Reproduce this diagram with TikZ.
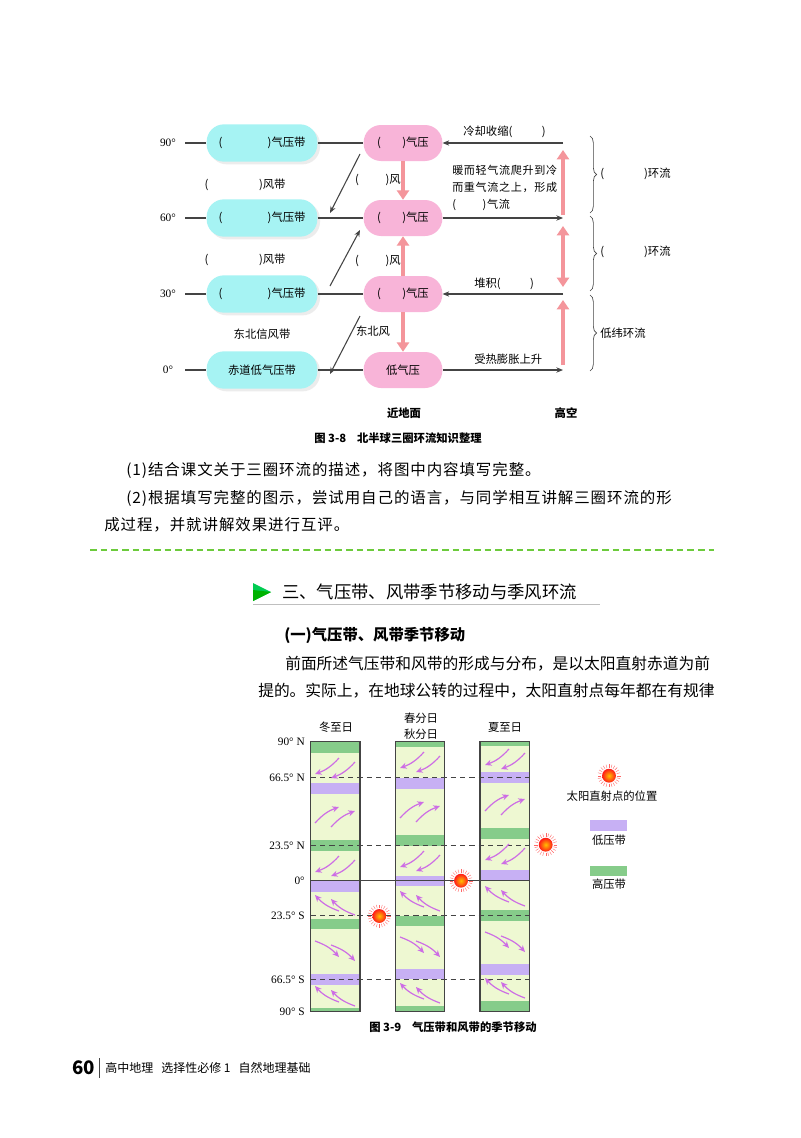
\documentclass[tikz,border=0pt]{standalone}
\usepackage{fontspec}
\setmainfont{Liberation Serif}
\newfontfamily\cjk{Noto Sans CJK SC}
\newfontfamily\cjksp[LetterSpace=6]{Noto Sans CJK SC}
\usetikzlibrary{shadows,decorations.pathreplacing,arrows.meta}
\definecolor{cyanp}{HTML}{A6F3F3}
\definecolor{pinkp}{HTML}{F8B4D8}
\definecolor{pinka}{HTML}{F4959B}
\definecolor{lgray}{HTML}{444444}
\definecolor{colbg}{HTML}{EEF8D2}
\definecolor{hiband}{HTML}{86CC8A}
\definecolor{loband}{HTML}{C7B0F4}
\definecolor{windc}{HTML}{C453E0}
\definecolor{dgreen}{HTML}{6CCB3C}
\tikzset{
 cpill/.style={fill=cyanp,rounded corners=13pt,minimum width=83pt,minimum height=28pt,inner sep=0pt,font=\cjk\fontsize{8.5}{9}\selectfont,drop shadow={opacity=0.15,shadow xshift=2pt,shadow yshift=-2pt}},
 ppill/.style={fill=pinkp,rounded corners=13pt,minimum width=59pt,minimum height=27pt,inner sep=0pt,font=\cjk\fontsize{8.5}{9}\selectfont},
 gl/.style={draw=lgray,line width=0.8pt},
 ga/.style={gl,-{Stealth[length=5pt,width=4pt]}},
 pa/.style={draw=pinka,line width=3.2pt,-{Triangle[length=7pt,width=9pt]}},
 lab/.style={font=\cjk\fontsize{8.5}{10}\selectfont,inner sep=0pt},
 deg/.style={font=\fontsize{8.5}{9}\selectfont,inner sep=0pt},
 body/.style={font=\cjksp\fontsize{11.6}{14}\selectfont,inner sep=0pt,anchor=west},
 bodyn/.style={font=\cjk\fontsize{11.8}{14}\selectfont,inner sep=0pt,anchor=west},
 wind/.style={draw=windc!85,line width=0.9pt,-{Stealth[length=5pt,width=4.5pt]}},
}
\newcommand\windpr[4]{%
 \foreach \ox/\oy in {-8/-2,8/2}{
  \draw[wind] ({#1+\ox-#3*12},{#2+\oy-#4*8}) to[bend left=14] ({#1+\ox+#3*12},{#2+\oy+#4*8});}}
\newcommand\sunmk[2]{%
 \foreach \a in {0,15,...,345}{\draw[red!60,line width=0.3pt] ({#1+8*cos(\a)},{#2+8*sin(\a)}) -- ({#1+11.5*cos(\a)},{#2+11.5*sin(\a)});}
 \shade[inner color=orange!50!yellow,outer color=red!90] (#1,#2) circle (5.2pt);}
\begin{document}
\begin{tikzpicture}[x=0.75pt,y=-0.75pt]
\useasboundingbox (0,0) rectangle (800,1138);
\fill[white] (0,0) rectangle (800,1138);
% ---------- top diagram
\foreach \n/\y/\t in {90/143/90°,60/218/60°,30/294/30°,0/370/0°}{
 \node[deg] at (168,\y) {\t};
 \coordinate (l\n) at (185,\y);
 \coordinate (r\n) at (563,\y);
}
\foreach \n/\y in {90/143,60/218,30/294}{
 \node[cpill] (c\n) at (262,\y) {(\hspace{34pt})气压带};
 \node[ppill] (p\n) at (403,\y) {(\hspace{16pt})气压};
}
\node[cpill] (c0) at (262,370) {赤道低气压带};
\node[ppill] (p0) at (403,370) {低气压};
\foreach \n in {90,60,30,0}{
 \draw[gl] (l\n) -- (c\n.west);
 \draw[gl] (c\n.east) -- (p\n.west);
}
\draw[ga] (r90) -- (p90.east);
\draw[ga] (p60.east) -- (r60);
\draw[ga] (r30) -- (p30.east);
\draw[ga] (p0.east) -- (r0);
\coordinate (d1s) at (360,154); \coordinate (d1e) at (330,213);
\coordinate (d2s) at (330,286); \coordinate (d2e) at (360,230);
\coordinate (d3s) at (360,316); \coordinate (d3e) at (330,374);
\draw[ga] (d1s) -- (d1e);
\draw[ga] (d2s) -- (d2e);
\draw[ga] (d3s) -- (d3e);
\draw[pa] (p90.south) -- (p60.north);
\draw[pa] (p30.north) -- (p60.south);
\draw[pa] (p30.south) -- (p0.north);
\coordinate (u1s) at (563,215); \coordinate (u1e) at (563,150);
\coordinate (u2s) at (563,226); \coordinate (u2e) at (563,287);
\coordinate (u3s) at (563,365); \coordinate (u3e) at (563,300);
\draw[pa] (u1s) -- (u1e);
\draw[pa,{Triangle[length=7pt,width=9pt]}-{Triangle[length=7pt,width=9pt]}] (u2e) -- (u2s);
\draw[pa] (u3s) -- (u3e);
\foreach \a/\b in {136/213,216/291,295/371}
 \draw[lgray,line width=0.5pt,decorate,decoration={brace,amplitude=5pt}] (590,\a) -- (590,\b);
\node[lab,anchor=west] at (600,174) {(\hspace{30pt})环流};
\node[lab,anchor=west] at (600,252) {(\hspace{30pt})环流};
\node[lab,anchor=west] at (600,333) {低纬环流};
\node[lab] at (245,185) {(\hspace{38pt})风带};
\node[lab] at (245,260) {(\hspace{38pt})风带};
\node[lab] at (262,334) {东北信风带};
\node[lab] at (378,180) {(\hspace{20pt})风};
\node[lab] at (378,261) {(\hspace{20pt})风};
\node[lab] at (373,331) {东北风};
\node[lab,anchor=west] at (463,132) {冷却收缩(\hspace{22pt})};
\node[lab,anchor=west,align=left,font=\cjksp\fontsize{8.3}{12.5}\selectfont] at (452,188) {暖而轻气流爬升到冷\\而重气流之上，形成\\(\hspace{20pt})气流};
\node[lab,anchor=west] at (474,284) {堆积(\hspace{22pt})};
\node[lab,anchor=west] at (474,359) {受热膨胀上升};
\node[lab,font=\cjk\bfseries\fontsize{8.5}{10}\selectfont] at (404,413) {近地面};
\node[lab,font=\cjk\bfseries\fontsize{8.5}{10}\selectfont] at (566,413) {高空};
\node[lab,anchor=west,font=\cjk\bfseries\fontsize{8.5}{10}\selectfont] at (314,438) {图 3-8\hspace{8pt}北半球三圈环流知识整理};
% ---------- body text
\node[body] at (126,470) {(1)结合课文关于三圈环流的描述，将图中内容填写完整。};
\node[body] at (126,498) {(2)根据填写完整的图示，尝试用自己的语言，与同学相互讲解三圈环流的形};
\node[body] at (104,525) {成过程，并就讲解效果进行互评。};
\draw[dgreen,line width=1pt,dash pattern=on 5pt off 3pt] (90,550) -- (714,550);
\fill[green!60!cyan!80!black] (253,583) -- (271,592) -- (253,601) -- cycle;
\fill[green!70!black] (253,590) -- (271,592) -- (253,601) -- cycle;
\draw[gray!50,line width=0.6pt] (253,604) -- (600,604);
\node[anchor=west,inner sep=0pt,font=\cjk\fontsize{13}{15}\selectfont] at (282,592) {三、气压带、风带季节移动与季风环流};
\node[anchor=west,inner sep=0pt,font=\cjk\bfseries\fontsize{11.5}{14}\selectfont] at (284,636) {(一)气压带、风带季节移动};
\node[bodyn] at (285,664) {前面所述气压带和风带的形成与分布，是以太阳直射赤道为前};
\node[bodyn] at (258,691) {提的。实际上，在地球公转的过程中，太阳直射点每年都在有规律};
% ---------- bottom diagram
\foreach \x in {310.7,395.3,480}{
 \fill[colbg] (\x,741.7) rectangle ({\x+49.3},1011.7);}
\foreach \x/\a/\b/\c in {
 310.7/741.7/752.7/hiband,310.7/783/794/loband,310.7/840/851/hiband,310.7/881/892/loband,310.7/919/929/hiband,310.7/974/985/loband,310.7/1007.7/1011.7/hiband,
 395.3/741.7/746.7/hiband,395.3/778/788.7/loband,395.3/835/845.7/hiband,395.3/875.7/885.7/loband,395.3/915.7/926/hiband,395.3/969/979.3/loband,395.3/1006/1011.7/hiband,
 480/741.7/745.7/hiband,480/772/782.7/loband,480/828/838.7/hiband,480/870/880.7/loband,480/910/920.7/hiband,480/964/974.7/loband,480/1001/1011.7/hiband}{
 \fill[\c] (\x,\a) rectangle ({\x+49.3},\b);}
\foreach \y in {777.7,845.7,915.7,979.3}
 \draw[lgray,line width=0.5pt,dash pattern=on 4pt off 3pt] (310.7,\y) -- (529.3,\y);
\draw[lgray,line width=0.5pt] (310.7,880.7) -- (529.3,880.7);
\foreach \x in {310.7,395.3,480}{
 \draw[lgray,line width=0.8pt] (\x,741.7) rectangle ({\x+49.3},1011.7);}
\foreach \x/\ya/\yb/\yc/\yd/\ye/\yf in {335/768/817/866/905/951/996, 420/762/812/861/901/947/993, 505/759/805/854/896/942/988}{
 \windpr{\x}{\ya}{-1}{1}
 \windpr{\x}{\yb}{1}{-1}
 \windpr{\x}{\yc}{-1}{1}
 \windpr{\x}{\yd}{-1}{-1}
 \windpr{\x}{\ye}{1}{1}
 \windpr{\x}{\yf}{-1}{-1}
}
\foreach \y/\t in {741.7/90° N,777.7/66.5° N,845.7/23.5° N,880.7/0°,915.7/23.5° S,979.3/66.5° S,1011.7/90° S}
 \node[deg,anchor=east] at (305,\y) {\t};
\node[lab] at (336,727) {冬至日};
\node[lab] at (421,718) {春分日};
\node[lab] at (421,734) {秋分日};
\node[lab] at (505,727) {夏至日};
\sunmk{545.7}{844.7}
\sunmk{461}{880.7}
\sunmk{379.3}{916}
\sunmk{609}{775.7}
\node[lab] at (612,796) {太阳直射点的位置};
\fill[loband] (590,820) rectangle (626.7,830.7);
\node[lab] at (609,840) {低压带};
\fill[hiband] (590,866) rectangle (626.7,876);
\node[lab] at (609,884) {高压带};
\node[lab,anchor=west,font=\cjk\bfseries\fontsize{8.5}{10}\selectfont] at (369,1027) {图 3-9\hspace{8pt}气压带和风带的季节移动};
% footer
\node[anchor=west,inner sep=0pt,font=\cjk\bfseries\fontsize{14}{16}\selectfont] at (72,1068) {60};
\draw[lgray,line width=0.6pt] (99,1058) -- (99,1078);
\node[anchor=west,inner sep=0pt,font=\cjk\fontsize{9}{11}\selectfont] at (105,1068) {高中地理\hspace{6pt}选择性必修 1\hspace{6pt}自然地理基础};
\end{tikzpicture}
\end{document}
